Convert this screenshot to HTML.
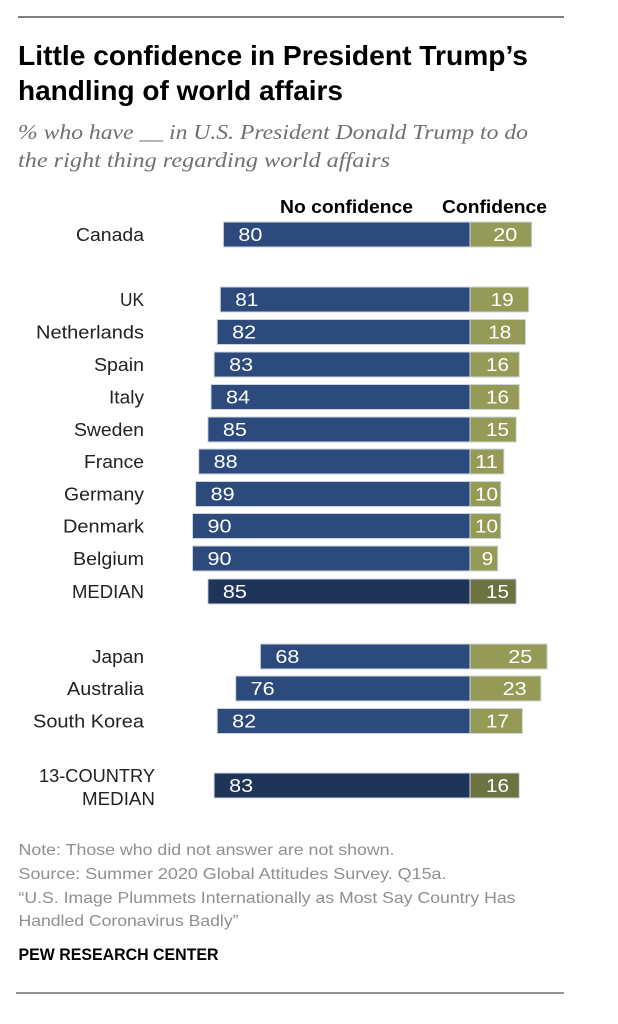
<!DOCTYPE html>
<html>
<head>
<meta charset="utf-8">
<style>
html,body{margin:0;padding:0;background:#fff;}
svg{display:block;}
.lab{font-family:"Liberation Sans",sans-serif;font-size:18px;fill:#222;text-anchor:end;}
.v{font-family:"Liberation Sans",sans-serif;font-size:18px;fill:#fff;}
.ft{font-family:"Liberation Sans",sans-serif;font-size:16px;fill:#8f8f8f;}
</style>
</head>
<body>
<svg width="618" height="1024" viewBox="0 0 618 1024" xmlns="http://www.w3.org/2000/svg">
<rect width="618" height="1024" fill="#fff"/>
<line x1="18" y1="17" x2="564" y2="17" stroke="#333" stroke-width="1.2"/>

<text x="18" y="65" font-family="Liberation Sans, sans-serif" font-weight="bold" font-size="28" fill="#000" textLength="510" lengthAdjust="spacingAndGlyphs">Little confidence in President Trump’s</text>
<text x="18" y="100" font-family="Liberation Sans, sans-serif" font-weight="bold" font-size="28" fill="#000" textLength="325" lengthAdjust="spacingAndGlyphs">handling of world affairs</text>

<text x="18" y="139" font-family="Liberation Serif, serif" font-style="italic" font-size="21" fill="#707070" textLength="510" lengthAdjust="spacingAndGlyphs">% who have __ in U.S. President Donald Trump to do</text>
<text x="18" y="167" font-family="Liberation Serif, serif" font-style="italic" font-size="21" fill="#707070" textLength="372" lengthAdjust="spacingAndGlyphs">the right thing regarding world affairs</text>

<text x="280" y="213" font-family="Liberation Sans, sans-serif" font-weight="bold" font-size="18" fill="#000" textLength="133" lengthAdjust="spacingAndGlyphs">No confidence</text>
<text x="442" y="213" font-family="Liberation Sans, sans-serif" font-weight="bold" font-size="18" fill="#000" textLength="105" lengthAdjust="spacingAndGlyphs">Confidence</text>

<g stroke="#cfd5df" stroke-width="1">
<rect x="223.4" y="222" width="246.6" height="25" fill="#2c4a7c"/>
<rect x="470" y="222" width="61.7" height="25" fill="#959b56"/>
<rect x="220.3" y="287" width="249.7" height="25" fill="#2c4a7c"/>
<rect x="470" y="287" width="58.6" height="25" fill="#959b56"/>
<rect x="217.2" y="319.5" width="252.8" height="25" fill="#2c4a7c"/>
<rect x="470" y="319.5" width="55.5" height="25" fill="#959b56"/>
<rect x="214.1" y="352" width="255.9" height="25" fill="#2c4a7c"/>
<rect x="470" y="352" width="49.3" height="25" fill="#959b56"/>
<rect x="211" y="384.5" width="259" height="25" fill="#2c4a7c"/>
<rect x="470" y="384.5" width="49.3" height="25" fill="#959b56"/>
<rect x="207.9" y="417" width="262.1" height="25" fill="#2c4a7c"/>
<rect x="470" y="417" width="46.2" height="25" fill="#959b56"/>
<rect x="198.7" y="449" width="271.3" height="25" fill="#2c4a7c"/>
<rect x="470" y="449" width="33.9" height="25" fill="#959b56"/>
<rect x="195.6" y="481.5" width="274.4" height="25" fill="#2c4a7c"/>
<rect x="470" y="481.5" width="30.8" height="25" fill="#959b56"/>
<rect x="192.5" y="513.5" width="277.5" height="25" fill="#2c4a7c"/>
<rect x="470" y="513.5" width="30.8" height="25" fill="#959b56"/>
<rect x="192.5" y="546" width="277.5" height="25" fill="#2c4a7c"/>
<rect x="470" y="546" width="27.7" height="25" fill="#959b56"/>
<rect x="207.9" y="579" width="262.1" height="25" fill="#1f3459"/>
<rect x="470" y="579" width="46.2" height="25" fill="#6d7243"/>
<rect x="260.4" y="644" width="209.6" height="25" fill="#2c4a7c"/>
<rect x="470" y="644" width="77.1" height="25" fill="#959b56"/>
<rect x="235.7" y="676" width="234.3" height="25" fill="#2c4a7c"/>
<rect x="470" y="676" width="70.9" height="25" fill="#959b56"/>
<rect x="217.2" y="708.5" width="252.8" height="25" fill="#2c4a7c"/>
<rect x="470" y="708.5" width="52.4" height="25" fill="#959b56"/>
<rect x="214.1" y="773" width="255.9" height="25" fill="#1f3459"/>
<rect x="470" y="773" width="49.3" height="25" fill="#6d7243"/>
</g>

<text class="lab" x="144" y="241" textLength="68" lengthAdjust="spacingAndGlyphs">Canada</text>
<text class="lab" x="144" y="306" textLength="24" lengthAdjust="spacingAndGlyphs">UK</text>
<text class="lab" x="144" y="338.5" textLength="108" lengthAdjust="spacingAndGlyphs">Netherlands</text>
<text class="lab" x="144" y="371" textLength="50" lengthAdjust="spacingAndGlyphs">Spain</text>
<text class="lab" x="144" y="403.5" textLength="35" lengthAdjust="spacingAndGlyphs">Italy</text>
<text class="lab" x="144" y="436" textLength="70" lengthAdjust="spacingAndGlyphs">Sweden</text>
<text class="lab" x="144" y="468" textLength="60" lengthAdjust="spacingAndGlyphs">France</text>
<text class="lab" x="144" y="500.5" textLength="80" lengthAdjust="spacingAndGlyphs">Germany</text>
<text class="lab" x="144" y="532.5" textLength="81" lengthAdjust="spacingAndGlyphs">Denmark</text>
<text class="lab" x="144" y="565" textLength="71" lengthAdjust="spacingAndGlyphs">Belgium</text>
<text class="lab" x="144" y="598" textLength="72" lengthAdjust="spacingAndGlyphs">MEDIAN</text>
<text class="lab" x="144" y="663" textLength="52" lengthAdjust="spacingAndGlyphs">Japan</text>
<text class="lab" x="144" y="695" textLength="77" lengthAdjust="spacingAndGlyphs">Australia</text>
<text class="lab" x="144" y="727.5" textLength="111" lengthAdjust="spacingAndGlyphs">South Korea</text>
<text class="lab" x="155" y="782" textLength="116" lengthAdjust="spacingAndGlyphs">13-COUNTRY</text>
<text class="lab" x="155" y="805" textLength="73" lengthAdjust="spacingAndGlyphs">MEDIAN</text>

<text class="v" x="238.4" y="241" textLength="24" lengthAdjust="spacingAndGlyphs">80</text>
<text class="v" x="235.3" y="306" textLength="23" lengthAdjust="spacingAndGlyphs">81</text>
<text class="v" x="232.2" y="338.5" textLength="24" lengthAdjust="spacingAndGlyphs">82</text>
<text class="v" x="229.1" y="371" textLength="24" lengthAdjust="spacingAndGlyphs">83</text>
<text class="v" x="226" y="403.5" textLength="24" lengthAdjust="spacingAndGlyphs">84</text>
<text class="v" x="222.9" y="436" textLength="24" lengthAdjust="spacingAndGlyphs">85</text>
<text class="v" x="213.7" y="468" textLength="24" lengthAdjust="spacingAndGlyphs">88</text>
<text class="v" x="210.6" y="500.5" textLength="24" lengthAdjust="spacingAndGlyphs">89</text>
<text class="v" x="207.5" y="532.5" textLength="24" lengthAdjust="spacingAndGlyphs">90</text>
<text class="v" x="207.5" y="565" textLength="24" lengthAdjust="spacingAndGlyphs">90</text>
<text class="v" x="222.9" y="598" textLength="24" lengthAdjust="spacingAndGlyphs">85</text>
<text class="v" x="275.4" y="663" textLength="24" lengthAdjust="spacingAndGlyphs">68</text>
<text class="v" x="250.7" y="695" textLength="24" lengthAdjust="spacingAndGlyphs">76</text>
<text class="v" x="232.2" y="727.5" textLength="24" lengthAdjust="spacingAndGlyphs">82</text>
<text class="v" x="229.1" y="792" textLength="24" lengthAdjust="spacingAndGlyphs">83</text>

<text class="v" x="493.3" y="241" textLength="24" lengthAdjust="spacingAndGlyphs">20</text>
<text class="v" x="490.7" y="306" textLength="23" lengthAdjust="spacingAndGlyphs">19</text>
<text class="v" x="488.3" y="338.5" textLength="23" lengthAdjust="spacingAndGlyphs">18</text>
<text class="v" x="486" y="371" textLength="23" lengthAdjust="spacingAndGlyphs">16</text>
<text class="v" x="486" y="403.5" textLength="23" lengthAdjust="spacingAndGlyphs">16</text>
<text class="v" x="486" y="436" textLength="23" lengthAdjust="spacingAndGlyphs">15</text>
<text class="v" x="475" y="468" textLength="23" lengthAdjust="spacingAndGlyphs">11</text>
<text class="v" x="475" y="500.5" textLength="23" lengthAdjust="spacingAndGlyphs">10</text>
<text class="v" x="475" y="532.5" textLength="23" lengthAdjust="spacingAndGlyphs">10</text>
<text class="v" x="481.7" y="565" textLength="11.6" lengthAdjust="spacingAndGlyphs">9</text>
<text class="v" x="486" y="598" textLength="23" lengthAdjust="spacingAndGlyphs">15</text>
<text class="v" x="508.3" y="663" textLength="24" lengthAdjust="spacingAndGlyphs">25</text>
<text class="v" x="502.7" y="695" textLength="24" lengthAdjust="spacingAndGlyphs">23</text>
<text class="v" x="486" y="727.5" textLength="23" lengthAdjust="spacingAndGlyphs">17</text>
<text class="v" x="486" y="792" textLength="23" lengthAdjust="spacingAndGlyphs">16</text>

<text class="ft" x="18.5" y="855" textLength="376" lengthAdjust="spacingAndGlyphs">Note: Those who did not answer are not shown.</text>
<text class="ft" x="18.5" y="879" textLength="428" lengthAdjust="spacingAndGlyphs">Source: Summer 2020 Global Attitudes Survey. Q15a.</text>
<text class="ft" x="18.5" y="903" textLength="497" lengthAdjust="spacingAndGlyphs">“U.S. Image Plummets Internationally as Most Say Country Has</text>
<text class="ft" x="18.5" y="926" textLength="220" lengthAdjust="spacingAndGlyphs">Handled Coronavirus Badly”</text>
<text x="18.5" y="960" font-family="Liberation Sans, sans-serif" font-weight="bold" font-size="17" fill="#000" textLength="200" lengthAdjust="spacingAndGlyphs">PEW RESEARCH CENTER</text>

<line x1="16" y1="993" x2="564" y2="993" stroke="#555" stroke-width="1.3"/>
</svg>
</body>
</html>
